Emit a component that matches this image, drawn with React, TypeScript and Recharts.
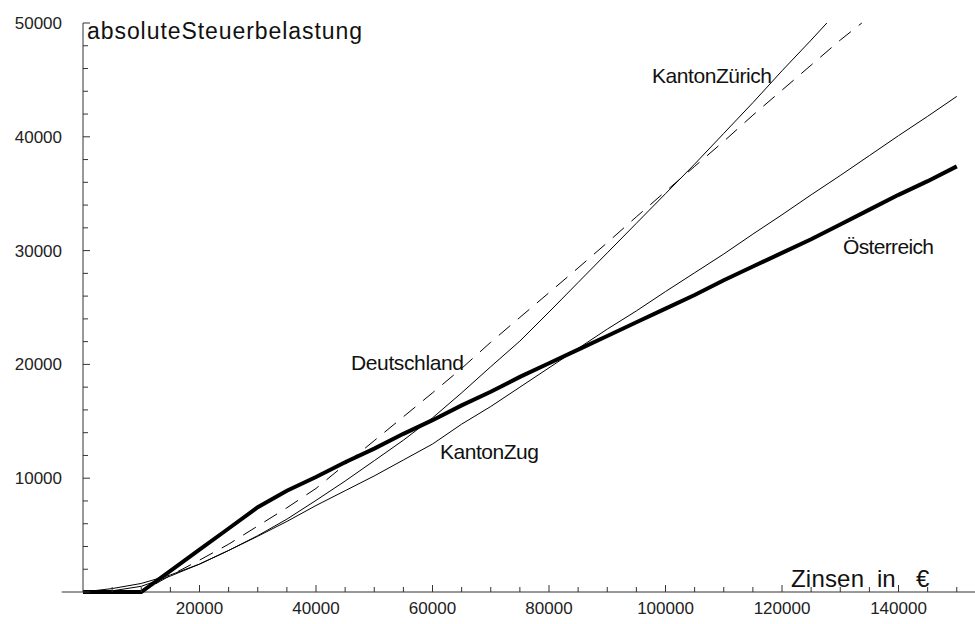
import React from "react";
import { LineChart, Line, XAxis, YAxis, ReferenceLine } from "recharts";

// Zinsen in € (x grid) and tax per country
const incomes = [
  0, 5000, 10000, 15000, 20000, 25000, 30000, 35000, 40000, 45000, 50000,
  55000, 60000, 65000, 70000, 75000, 80000, 85000, 90000, 95000, 100000,
  105000, 110000, 115000, 120000, 125000, 130000, 135000, 140000, 145000,
  150000,
];

const oesterreich = [
  0, 0, 0, 1860, 3720, 5580, 7450, 8900, 10100, 11400, 12600, 13900, 15100,
  16400, 17600, 18900, 20100, 21300, 22500, 23700, 24900, 26100, 27400, 28600,
  29800, 31000, 32300, 33600, 34900, 36100, 37400,
];

const kantonZug = [
  0, 300, 750, 1500, 2450, 3650, 4900, 6200, 7600, 8900, 10200, 11600, 13000,
  14750, 16300, 18000, 19700, 21400, 23100, 24700, 26400, 28050, 29700, 31450,
  33150, 34900, 36600, 38350, 40100, 41800, 43550,
];

// these two leave the frame at 50000
const kantonZuerich = [
  0, 100, 500, 1400, 2450, 3650, 4950, 6400, 8050, 9750, 11540, 13340, 15300,
  17500, 19800, 22050, 24600, 27200, 29800, 32400, 35000, 37600, 40300, 43000,
  45800, 48500,
];
const kantonZuerichEnd = { x: 127700, y: 50000 };

const deutschland = [
  0, 0, 0, 1450, 2800, 4200, 5800, 7400, 9100, 11200, 13300, 15400, 17500,
  19650, 21950, 24130, 26300, 28480, 30700, 32970, 35200, 37400, 39600, 41900,
  44100, 46300, 48500,
];
const deutschlandEnd = { x: 133700, y: 50000 };

const xTicks = incomes.slice(1);
const yTicks = Array.from({ length: 26 }, (_, i) => i * 2000);

const toSeries = (values: number[]) =>
  values.map((v, i) => ({ x: incomes[i], y: v }));

const oeData = toSeries(oesterreich);
const zugData = toSeries(kantonZug);
const zuerichData = [...toSeries(kantonZuerich), kantonZuerichEnd];
const deData = [...toSeries(deutschland), deutschlandEnd];

const FONT = "'Liberation Sans', Arial, sans-serif";
const AXIS = "#333";

const XTick = (props: any) => {
  const { x, y, payload } = props;
  const major = payload.value % 20000 === 0;
  return (
    <g>
      <line x1={x} x2={x} y1={y} y2={y - (major ? 7 : 5)} stroke={AXIS} />
      {major && (
        <text x={x} y={y + 22} textAnchor="middle" fontSize={17} fill="#222" fontFamily={FONT}>
          {payload.value}
        </text>
      )}
    </g>
  );
};

const YTick = (props: any) => {
  const { x, y, payload } = props;
  const major = payload.value % 10000 === 0;
  return (
    <g>
      <line x1={x} x2={x + (major ? 7 : 5)} y1={y} y2={y} stroke={AXIS} />
      {major && payload.value > 0 && (
        <text x={x - 21} y={y + 6} textAnchor="end" fontSize={17} fill="#222" fontFamily={FONT}>
          {payload.value}
        </text>
      )}
    </g>
  );
};

const labelStyle = { fontFamily: FONT, fill: "#111" };

const App: React.FC = () => {
  return (
    <div style={{ position: "absolute", left: 0, top: 0, width: 975, height: 624, background: "#fff" }}>
      <LineChart width={975} height={624} margin={{ top: 23, right: 0, bottom: 0, left: 0 }}>
        <XAxis
          dataKey="x"
          type="number"
          domain={[0, 153130]}
          ticks={xTicks}
          interval={0}
          tick={<XTick />}
          tickLine={false}
          tickSize={0}
          tickMargin={0}
          axisLine={false}
          height={32}
        />
        <YAxis
          type="number"
          domain={[0, 50000]}
          ticks={yTicks}
          interval={0}
          tick={<YTick />}
          tickLine={false}
          tickSize={0}
          tickMargin={0}
          axisLine={{ stroke: AXIS }}
          width={83}
        />
        <ReferenceLine
          segment={[{ x: -3650, y: 0 }, { x: 153130, y: 0 }]}
          stroke={AXIS}
          ifOverflow="visible"
        />
        <Line data={oeData} dataKey="y" stroke="#000" strokeWidth={4} dot={false} isAnimationActive={false} />
        <Line data={zugData} dataKey="y" stroke="#000" strokeWidth={1} dot={false} isAnimationActive={false} />
        <Line data={zuerichData} dataKey="y" stroke="#000" strokeWidth={1} dot={false} isAnimationActive={false} />
        <Line
          data={deData}
          dataKey="y"
          stroke="#000"
          strokeWidth={1}
          strokeDasharray="15 10"
          dot={false}
          isAnimationActive={false}
        />
      </LineChart>
      <svg width={975} height={624} style={{ position: "absolute", left: 0, top: 0, pointerEvents: "none" }}>
        <text x={87} y={39} fontSize={23} textLength={275} lengthAdjust="spacing" {...labelStyle}>
          absoluteSteuerbelastung
        </text>
        <text x={791} y={587} fontSize={24} textLength={73} lengthAdjust="spacing" {...labelStyle}>
          Zinsen
        </text>
        <text x={877} y={587} fontSize={24} {...labelStyle}>
          in
        </text>
        <text x={916} y={587} fontSize={24} {...labelStyle}>
          €
        </text>
        <text x={652} y={83} fontSize={21} textLength={120} lengthAdjust="spacing" {...labelStyle}>
          KantonZürich
        </text>
        <text x={351} y={370} fontSize={21} textLength={113} lengthAdjust="spacing" {...labelStyle}>
          Deutschland
        </text>
        <text x={440} y={459} fontSize={21} textLength={99} lengthAdjust="spacing" {...labelStyle}>
          KantonZug
        </text>
        <text x={843} y={254} fontSize={21} textLength={91} lengthAdjust="spacing" {...labelStyle}>
          Österreich
        </text>
      </svg>
    </div>
  );
};

export default App;
